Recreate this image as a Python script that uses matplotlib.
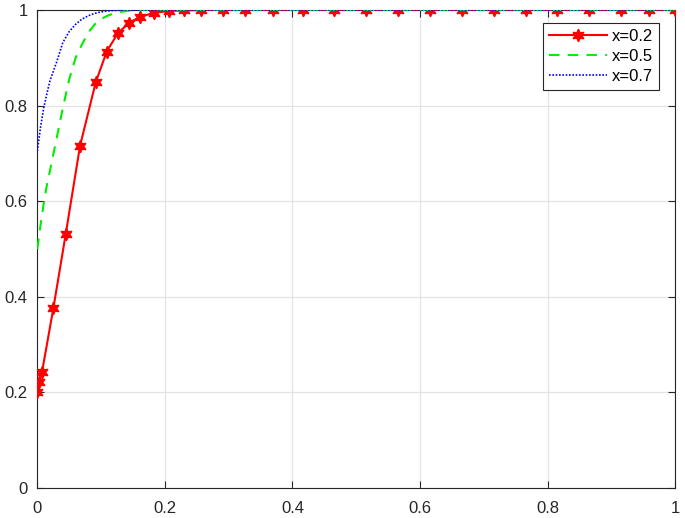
import matplotlib
matplotlib.use("Agg")
import matplotlib.pyplot as plt

plt.rcParams['font.family'] = ['Liberation Sans', 'DejaVu Sans']

# x=0.2 series (markers)
x_red = [0, 0.0027, 0.0074, 0.0251, 0.0445, 0.067, 0.0916, 0.1088, 0.126, 0.1438, 0.1615,
         0.183, 0.2065, 0.2305, 0.257, 0.291, 0.325, 0.370, 0.416, 0.465, 0.515,
         0.565, 0.616, 0.666, 0.716, 0.766, 0.815, 0.865, 0.915, 0.959, 1.0]
y_red = [0.2, 0.221, 0.243, 0.376, 0.531, 0.716, 0.849, 0.913, 0.951, 0.973, 0.986,
         0.994, 0.998, 0.999, 1.0, 1.0, 1.0, 1.0, 1.0, 1.0, 1.0,
         1.0, 1.0, 1.0, 1.0, 1.0, 1.0, 1.0, 1.0, 1.0, 1.0]

# x=0.5 series
x_green = [0, 0.005, 0.01, 0.015, 0.02, 0.03, 0.04, 0.05, 0.06, 0.07, 0.08, 0.09,
           0.1, 0.11, 0.12, 0.13, 0.14, 0.15, 0.16, 0.2, 0.4, 0.6, 0.8, 1.0]
y_green = [0.5, 0.55, 0.595, 0.634, 0.665, 0.73, 0.795, 0.855, 0.9, 0.928, 0.953, 0.97,
           0.981, 0.988, 0.993, 0.996, 0.998, 0.999, 1.0, 1.0, 1.0, 1.0, 1.0, 1.0]

# x=0.7 series
x_blue = [0, 0.005, 0.01, 0.015, 0.02, 0.03, 0.04, 0.05, 0.06, 0.07, 0.08, 0.09,
          0.1, 0.11, 0.12, 0.14, 0.2, 0.4, 0.6, 0.8, 1.0]
y_blue = [0.705, 0.755, 0.795, 0.825, 0.853, 0.89, 0.932, 0.955, 0.97, 0.981, 0.988, 0.993,
          0.996, 0.998, 0.999, 1.0, 1.0, 1.0, 1.0, 1.0, 1.0]

labels = ['x=0.2', 'x=0.5', 'x=0.7']
xticks = [0, 0.2, 0.4, 0.6, 0.8, 1]
yticks = [0, 0.2, 0.4, 0.6, 0.8, 1]
ticklabels = ['0', '0.2', '0.4', '0.6', '0.8', '1']

fig = plt.figure(figsize=(6.85, 5.18), dpi=100)
ax = fig.add_axes([0.0545, 0.0579, 0.931, 0.9228])

ax.plot(x_red, y_red, color='#ff0000', lw=1.5, marker=(6, 1, 0), markersize=9,
        markeredgecolor='#ff0000', markerfacecolor='#ff0000', label=labels[0], zorder=3)
ax.plot(x_green, y_green, color='#00ee00', lw=1.5, ls=(0, (5, 4)), label=labels[1], zorder=4)
ax.plot(x_blue, y_blue, color='#0000ff', lw=1.2, ls=(0, (1, 1)), label=labels[2], zorder=5)

ax.set_xlim(0, 1)
ax.set_ylim(0, 1)
ax.set_xticks(xticks)
ax.set_xticklabels(ticklabels)
ax.set_yticks(yticks)
ax.set_yticklabels(ticklabels)
ax.grid(True, color='#e3e3e3', lw=0.9)
ax.set_axisbelow(True)
ax.tick_params(direction='in', top=True, right=True, length=5, width=0.8,
               labelsize=12, colors='#262626')
ax.tick_params(axis='x', pad=9)
ax.tick_params(axis='y', pad=7)
for s in ax.spines.values():
    s.set_color('#262626')
    s.set_linewidth(0.8)

leg = ax.legend(loc='upper right', bbox_to_anchor=(0.975, 0.972), fancybox=False,
                edgecolor='#262626', fontsize=12, handlelength=3.5, borderpad=0.35,
                labelspacing=0.3, handletextpad=0.3, borderaxespad=0, framealpha=1)
leg.get_frame().set_linewidth(0.8)

fig.savefig('out.png', dpi=100)
